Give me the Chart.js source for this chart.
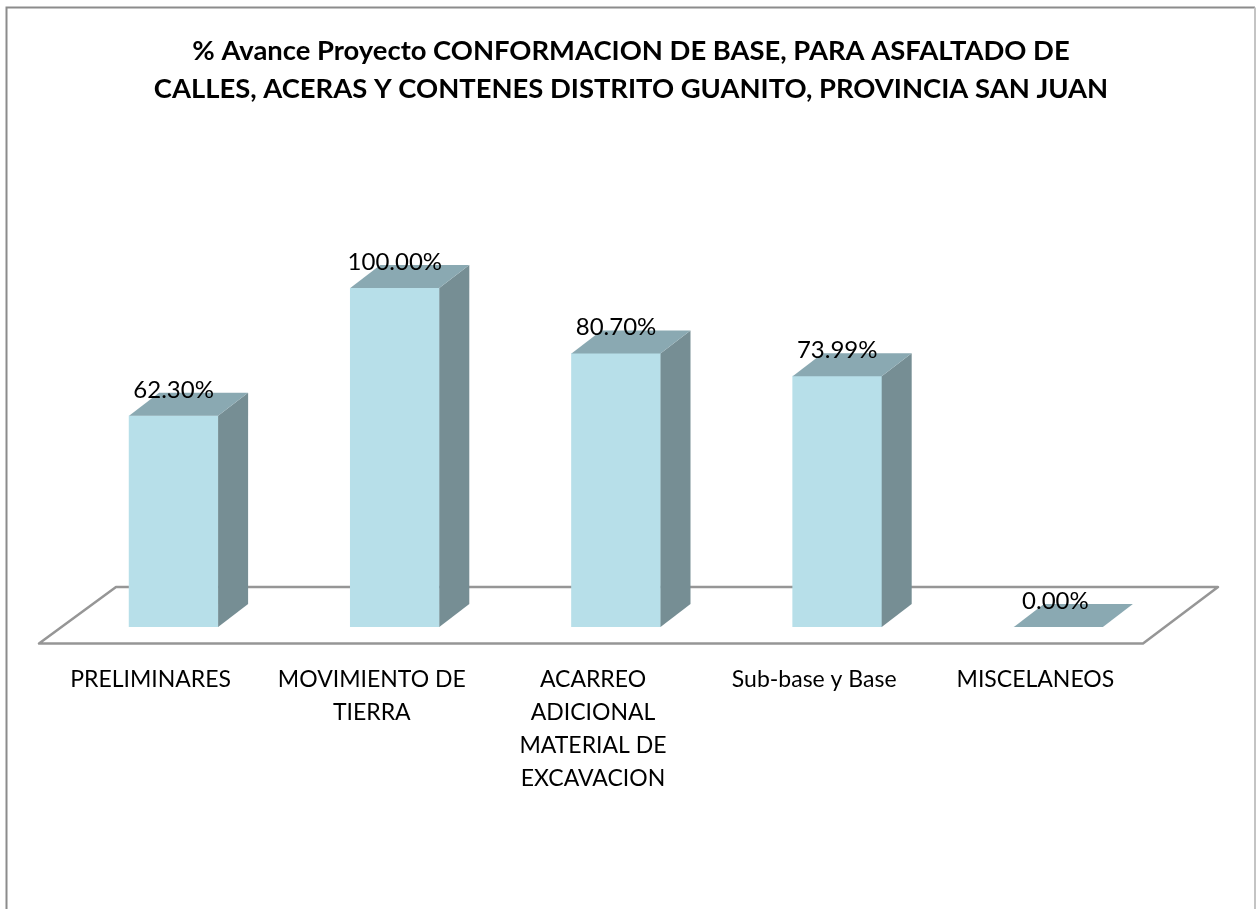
<!DOCTYPE html>
<html>
<head>
<meta charset="utf-8">
<title>% Avance Proyecto</title>
<script src="https://cdn.jsdelivr.net/npm/chart.js@4"></script>
<style>
  body { margin: 0; background: #fff; overflow: hidden; }
  canvas { display: block; }
</style>
</head>
<body>
<canvas id="avanceChart" width="1256" height="909"></canvas>
<script>
const titleLines = [
  "% Avance Proyecto CONFORMACION DE BASE, PARA ASFALTADO DE",
  "CALLES, ACERAS Y CONTENES DISTRITO GUANITO, PROVINCIA SAN JUAN",
];
const categories = [
  "PRELIMINARES",
  ["MOVIMIENTO DE", "TIERRA"],
  ["ACARREO", "ADICIONAL", "MATERIAL DE", "EXCAVACION"],
  "Sub-base y Base",
  "MISCELANEOS",
];
const avance = [62.3, 100, 80.7, 73.99, 0];

const DEPTH_X = 30;
const DEPTH_Y = 23;

function polygon(ctx, pts, fill) {
  ctx.beginPath();
  pts.forEach((p, i) => (i ? ctx.lineTo(p[0], p[1]) : ctx.moveTo(p[0], p[1])));
  ctx.closePath();
  ctx.fillStyle = fill;
  ctx.fill();
}

// outer frame and the floor of the fake 3D chart
const floorPlugin = {
  id: "floor",
  afterLayout(chart) {
    // title sits a bit right of the plot centre
    chart.titleBlock.left += 15;
    chart.titleBlock.right += 15;
  },
  beforeDraw(chart) {
    const { ctx, width, height } = chart;
    ctx.save();
    ctx.fillStyle = "#fff";
    ctx.fillRect(0, 0, width, height);
    ctx.strokeStyle = "#8c8c8c";
    ctx.lineWidth = 2;
    ctx.beginPath();
    ctx.moveTo(6.5, height);
    ctx.lineTo(6.5, 7.5);
    ctx.lineTo(width - 1, 7.5);
    ctx.stroke();
    ctx.strokeStyle = "#c4c4c4";
    ctx.beginPath();
    ctx.moveTo(width - 1, 7.5);
    ctx.lineTo(width - 1, height);
    ctx.stroke();
    ctx.restore();
  },
  beforeDatasetsDraw(chart) {
    const { ctx, chartArea } = chart;
    const { left, right, bottom } = chartArea;
    ctx.save();
    ctx.strokeStyle = "#969696";
    ctx.lineWidth = 2.5;
    ctx.lineJoin = "round";
    ctx.beginPath();
    ctx.moveTo(left - 24, bottom + 16.5);
    ctx.lineTo(right - 26, bottom + 16.5);
    ctx.lineTo(right + 49, bottom - 40);
    ctx.lineTo(left + 53, bottom - 40);
    ctx.closePath();
    ctx.stroke();
    ctx.restore();
  },
  afterDatasetsDraw(chart) {
    const { ctx } = chart;
    const meta = chart.getDatasetMeta(0);
    ctx.save();
    meta.data.forEach((bar, i) => {
      const half = bar.width / 2;
      const x0 = bar.x - half;
      const x1 = bar.x + half;
      const top = bar.y;
      const base = bar.base;
      if (avance[i] > 0) {
        polygon(ctx, [[x1, top], [x1 + DEPTH_X, top - DEPTH_Y], [x1 + DEPTH_X, base - DEPTH_Y], [x1, base]], "#768e94");
      }
      polygon(ctx, [[x0, top], [x1, top], [x1 + DEPTH_X, top - DEPTH_Y], [x0 + DEPTH_X, top - DEPTH_Y]], "#8aa9b2");
    });
    // value labels go over the bar tops
    ctx.fillStyle = "#000";
    ctx.font = "24px Lato";
    ctx.textAlign = "center";
    ctx.textBaseline = "middle";
    meta.data.forEach((bar, i) => {
      const shift = avance[i] === 0 ? -3 : 0;
      ctx.fillText(avance[i].toFixed(2) + "%", bar.x + shift, bar.y - 26);
    });
    ctx.restore();
  },
};

const ctx = document.getElementById("avanceChart").getContext("2d");
new Chart(ctx, {
  type: "bar",
  data: {
    labels: categories,
    datasets: [
      {
        label: "% Avance",
        data: avance,
        backgroundColor: "#b7dfe9",
        borderWidth: 0,
        barThickness: 89,
      },
    ],
  },
  options: {
    responsive: false,
    animation: false,
    layout: { padding: { left: 63, right: 87, top: 0, bottom: 0 } },
    plugins: {
      legend: { display: false },
      tooltip: { enabled: false },
      title: {
        display: true,
        text: titleLines,
        color: "#000",
        font: { family: "Lato", size: 27.4, weight: "bold", lineHeight: 38 / 27.4 },
        padding: { top: 32, bottom: 180 },
      },
    },
    scales: {
      x: {
        grid: { display: false, drawTicks: false },
        border: { display: false },
        afterFit(scale) {
          scale.height = 282;
        },
        ticks: {
          color: "#000",
          font: { family: "Lato", size: 23, lineHeight: 33 / 23 },
          padding: 36,
          labelOffset: -23,
          maxRotation: 0,
          autoSkip: false,
        },
      },
      y: {
        display: false,
        min: 0,
        max: 100,
      },
    },
  },
  plugins: [floorPlugin],
});
</script>
</body>
</html>
